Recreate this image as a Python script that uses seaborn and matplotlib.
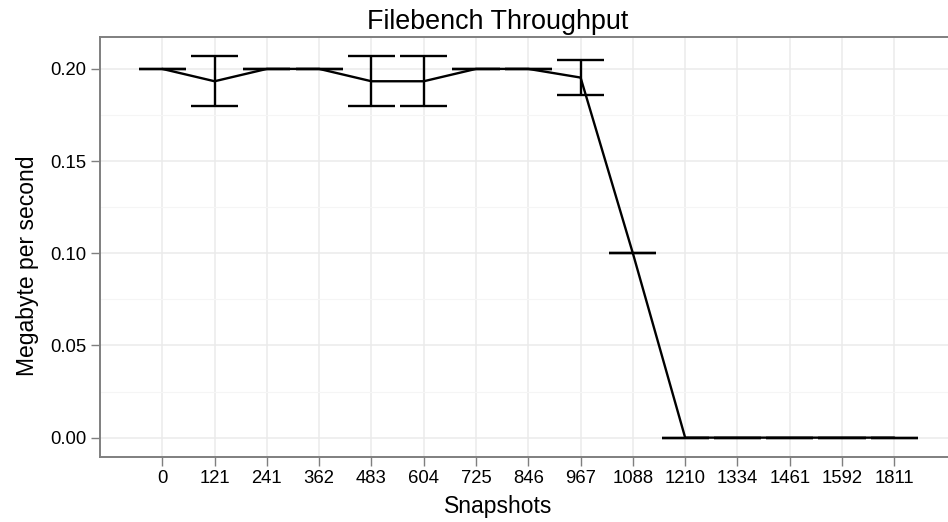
import numpy as np
import pandas as pd
import matplotlib
matplotlib.use("Agg")
import matplotlib.pyplot as plt
from matplotlib.ticker import MultipleLocator
import seaborn as sns

snapshots = ["0", "121", "241", "362", "483", "604", "725", "846", "967",
             "1088", "1210", "1334", "1461", "1592", "1811"]
mean_mbps = [0.2, 0.1933, 0.2, 0.2, 0.1933, 0.1933, 0.2, 0.2, 0.1953,
             0.1, 0.0, 0.0, 0.0, 0.0, 0.0]
lower_mbps = [0.2, 0.1797, 0.2, 0.2, 0.1797, 0.1797, 0.2, 0.2, 0.1859,
              0.1, 0.0, 0.0, 0.0, 0.0, 0.0]
upper_mbps = [0.2, 0.2068, 0.2, 0.2, 0.2068, 0.2068, 0.2, 0.2, 0.2049,
              0.1, 0.0, 0.0, 0.0, 0.0, 0.0]
y_ticks = [0.00, 0.05, 0.10, 0.15, 0.20]

df = pd.DataFrame({"Snapshots": snapshots, "mean": mean_mbps,
                   "lower": lower_mbps, "upper": upper_mbps})

sns.set_style("white")
plt.rcParams["font.family"] = ["Liberation Sans", "DejaVu Sans"]
plt.rcParams["text.color"] = "black"
plt.rcParams["axes.labelcolor"] = "black"

fig = plt.figure(figsize=(9.48, 5.22), dpi=100)
ax = fig.add_axes([99.7 / 948, 1 - 456.7 / 522, 1 - 99.7 / 948, (456.7 - 37.3) / 522])

sns.lineplot(data=df, x="Snapshots", y="mean", sort=False, color="black",
             linewidth=1.7, ax=ax, zorder=3)

pos = np.arange(len(snapshots))
half = 0.45
ax.vlines(pos, df["lower"], df["upper"], color="black", linewidth=1.7, zorder=3)
ax.hlines(df["lower"], pos - half, pos + half, color="black", linewidth=1.7, zorder=3)
ax.hlines(df["upper"], pos - half, pos + half, color="black", linewidth=1.7, zorder=3)

ymax = max(upper_mbps)
ax.set_ylim(-0.05 * ymax, ymax * 1.05)
ax.set_xlim(-1.197, 15.027)
ax.set_yticks(y_ticks)
ax.set_yticklabels([f"{v:.2f}" for v in y_ticks])
ax.yaxis.set_minor_locator(MultipleLocator(0.025))

ax.grid(True, which="major", color="#EBEBEB", linewidth=1.1, zorder=0)
ax.grid(True, which="minor", axis="y", color="#F5F5F5", linewidth=0.8, zorder=0)
ax.set_axisbelow(True)

for side in ["left", "top", "bottom"]:
    ax.spines[side].set_visible(True)
    ax.spines[side].set_color("#7F7F7F")
    ax.spines[side].set_linewidth(1.4)
ax.spines["right"].set_visible(False)

ax.tick_params(axis="both", which="major", length=6.5, width=1.0, color="#7F7F7F",
               labelsize=13.3, labelcolor="black", pad=3, direction="out")
ax.tick_params(axis="y", which="minor", length=0)
ax.tick_params(left=True, bottom=True)

cx = (498 - 99.7) / (948 - 99.7)
cy = (456.7 - 266) / (456.7 - 37.3)
ax.set_xlabel("Snapshots", fontsize=16.5, labelpad=6, x=cx, color="black")
ax.set_ylabel("Megabyte per second", fontsize=16.5, labelpad=8, y=cy, color="black")
ax.set_title("Filebench Throughput", fontsize=19.4, pad=6, x=cx, color="black")

fig.savefig("out.png", dpi=100)
